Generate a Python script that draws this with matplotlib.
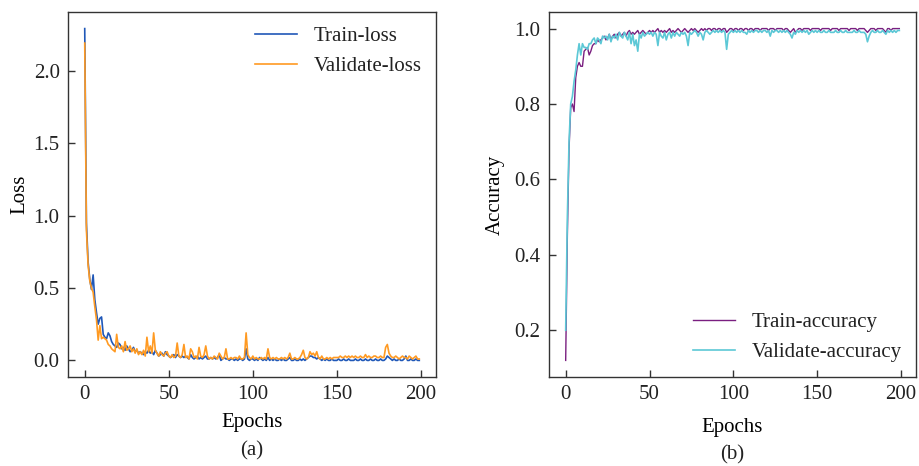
import matplotlib
matplotlib.use("Agg")
import matplotlib.pyplot as plt
import numpy as np

plt.rcParams['font.family'] = ['Liberation Serif', 'DejaVu Serif']
plt.rcParams['font.size'] = 15
plt.rcParams['text.color'] = '#222222'
plt.rcParams['axes.edgecolor'] = '#333333'
plt.rcParams['xtick.color'] = '#333333'
plt.rcParams['ytick.color'] = '#333333'
plt.rcParams['xtick.labelcolor'] = '#222222'
plt.rcParams['ytick.labelcolor'] = '#222222'

epochs = list(range(200))

train_loss = [
    2.29, 0.95, 0.68, 0.56, 0.49, 0.59, 0.42, 0.33, 0.25, 0.29,
    0.30, 0.18, 0.16, 0.15, 0.19, 0.17, 0.13, 0.11, 0.10, 0.09,
    0.12, 0.11, 0.08, 0.09, 0.07, 0.10, 0.08, 0.06, 0.07, 0.09,
    0.06, 0.07, 0.05, 0.06, 0.05, 0.04, 0.06, 0.05, 0.07, 0.05,
    0.06, 0.04, 0.07, 0.05, 0.03, 0.04, 0.05, 0.03, 0.06, 0.04,
    0.03, 0.02, 0.03, 0.04, 0.02, 0.04, 0.03, 0.02, 0.03, 0.02,
    0.03, 0.02, 0.01, 0.04, 0.02, 0.01, 0.02, 0.03, 0.01, 0.02,
    0.01, 0.02, 0.03, 0.01, 0.01, 0.02, 0.01, 0.02, 0.01, 0.02,
    0.04, 0.00, 0.01, 0.02, 0.01, 0.01, 0.00, 0.01, 0.01, 0.00,
    0.01, 0.00, 0.01, 0.01, 0.00, 0.01, 0.08, 0.01, 0.00, 0.01,
    0.01, 0.00, 0.01, 0.00, 0.02, 0.01, 0.00, 0.01, 0.00, 0.02,
    0.00, 0.01, 0.00, 0.01, 0.00, 0.00, 0.01, 0.00, 0.01, 0.00,
    0.00, 0.01, 0.02, 0.00, 0.00, 0.01, 0.00, 0.00, 0.01, 0.00,
    0.01, 0.00, 0.01, 0.02, 0.03, 0.03, 0.02, 0.02, 0.01, 0.02,
    0.01, 0.00, 0.01, 0.00, 0.01, 0.00, 0.00, 0.01, 0.00, 0.00,
    0.00, 0.01, 0.00, 0.00, 0.01, 0.00, 0.00, 0.01, 0.00, 0.00,
    0.00, 0.01, 0.00, 0.00, 0.01, 0.00, 0.00, 0.01, 0.00, 0.00,
    0.01, 0.00, 0.00, 0.01, 0.00, 0.00, 0.01, 0.00, 0.00, 0.01,
    0.03, 0.02, 0.01, 0.00, 0.01, 0.00, 0.00, 0.01, 0.00, 0.00,
    0.01, 0.03, 0.00, 0.00, 0.01, 0.00, 0.00, 0.01, 0.00, 0.00,
]

val_loss = [
    2.19, 0.90, 0.66, 0.55, 0.50, 0.47, 0.37, 0.28, 0.14, 0.24,
    0.15, 0.16, 0.15, 0.14, 0.11, 0.10, 0.08, 0.07, 0.06, 0.18,
    0.09, 0.08, 0.10, 0.06, 0.13, 0.07, 0.08, 0.10, 0.06, 0.08,
    0.05, 0.08, 0.04, 0.06, 0.04, 0.07, 0.03, 0.16, 0.06, 0.10,
    0.05, 0.19, 0.07, 0.05, 0.03, 0.06, 0.04, 0.03, 0.05, 0.06,
    0.03, 0.02, 0.04, 0.02, 0.03, 0.12, 0.03, 0.02, 0.04, 0.11,
    0.02, 0.03, 0.01, 0.08, 0.06, 0.02, 0.03, 0.01, 0.09, 0.03,
    0.02, 0.04, 0.10, 0.03, 0.01, 0.02, 0.01, 0.03, 0.02, 0.01,
    0.05, 0.03, 0.01, 0.02, 0.08, 0.01, 0.01, 0.02, 0.01, 0.02,
    0.02, 0.01, 0.03, 0.01, 0.01, 0.02, 0.19, 0.04, 0.02, 0.01,
    0.03, 0.01, 0.02, 0.01, 0.01, 0.02, 0.01, 0.02, 0.01, 0.08,
    0.02, 0.01, 0.02, 0.01, 0.02, 0.01, 0.01, 0.02, 0.01, 0.02,
    0.01, 0.02, 0.05, 0.01, 0.01, 0.02, 0.01, 0.01, 0.02, 0.04,
    0.07, 0.02, 0.01, 0.02, 0.06, 0.04, 0.05, 0.03, 0.06, 0.02,
    0.01, 0.03, 0.01, 0.01, 0.02, 0.01, 0.02, 0.01, 0.02, 0.02,
    0.02, 0.02, 0.03, 0.02, 0.02, 0.03, 0.02, 0.03, 0.02, 0.03,
    0.02, 0.03, 0.02, 0.02, 0.03, 0.02, 0.02, 0.04, 0.02, 0.03,
    0.02, 0.02, 0.03, 0.03, 0.02, 0.02, 0.03, 0.02, 0.02, 0.09,
    0.11, 0.05, 0.03, 0.02, 0.02, 0.03, 0.02, 0.01, 0.02, 0.03,
    0.02, 0.02, 0.01, 0.03, 0.02, 0.01, 0.02, 0.03, 0.01, 0.01,
]

train_acc = [
    0.12, 0.45, 0.68, 0.79, 0.80, 0.78, 0.87, 0.90, 0.91, 0.90,
    0.90, 0.94, 0.945, 0.95, 0.93, 0.94, 0.955, 0.96, 0.96, 0.97,
    0.965, 0.97, 0.975, 0.98, 0.97, 0.975, 0.985, 0.97, 0.98, 0.985,
    0.975, 0.985, 0.99, 0.98, 0.985, 0.99, 0.98, 0.99, 0.995, 0.985,
    0.99, 0.985, 0.99, 0.995, 0.985, 0.99, 0.995, 0.99, 0.985, 0.99,
    0.995, 0.99, 0.995, 0.99, 0.995, 1.0, 0.99, 0.995, 0.99, 0.995,
    0.99, 0.995, 1.0, 0.99, 0.995, 0.99, 0.995, 1.0, 0.995, 0.99,
    0.995, 1.0, 0.995, 0.99, 0.995, 1.0, 0.995, 1.0, 0.995, 0.99,
    0.995, 1.0, 0.995, 1.0, 0.995, 1.0, 1.0, 0.995, 1.0, 1.0,
    0.995, 1.0, 1.0, 0.995, 1.0, 1.0, 0.99, 0.995, 1.0, 1.0,
    0.995, 1.0, 1.0, 0.995, 1.0, 1.0, 0.995, 1.0, 1.0, 0.995,
    1.0, 1.0, 0.995, 1.0, 1.0, 1.0, 0.995, 1.0, 1.0, 1.0,
    1.0, 0.995, 1.0, 1.0, 1.0, 0.995, 1.0, 1.0, 1.0, 1.0,
    0.995, 1.0, 1.0, 0.995, 0.99, 0.995, 1.0, 0.99, 0.995, 1.0,
    1.0, 0.995, 1.0, 1.0, 1.0, 1.0, 0.995, 1.0, 1.0, 1.0,
    1.0, 1.0, 0.995, 1.0, 1.0, 1.0, 1.0, 1.0, 0.995, 1.0,
    1.0, 1.0, 1.0, 0.995, 1.0, 1.0, 1.0, 1.0, 1.0, 0.995,
    1.0, 1.0, 1.0, 1.0, 0.995, 1.0, 1.0, 1.0, 1.0, 0.995,
    0.99, 0.995, 1.0, 1.0, 1.0, 0.995, 1.0, 1.0, 1.0, 1.0,
    0.995, 0.99, 1.0, 1.0, 0.995, 1.0, 1.0, 1.0, 1.0, 1.0,
]

val_acc = [
    0.20, 0.50, 0.70, 0.80, 0.82, 0.86, 0.89, 0.93, 0.96, 0.93,
    0.96, 0.95, 0.95, 0.945, 0.96, 0.96, 0.97, 0.975, 0.96, 0.975,
    0.97, 0.96, 0.98, 0.975, 0.98, 0.97, 0.985, 0.965, 0.98, 0.975,
    0.985, 0.97, 0.99, 0.98, 0.975, 0.99, 0.98, 0.97, 0.99, 0.96,
    0.985, 0.955, 0.97, 0.94, 0.985, 0.975, 0.99, 0.98, 0.985, 0.99,
    0.985, 0.99, 0.98, 0.99, 0.985, 0.955, 0.99, 0.98, 0.975, 0.99,
    0.97, 0.985, 0.99, 0.975, 0.99, 0.98, 0.99, 0.985, 0.98, 0.99,
    0.985, 0.99, 0.98, 0.955, 0.99, 0.985, 0.99, 0.995, 0.99, 0.98,
    0.99, 0.985, 0.97, 0.99, 0.995, 0.99, 0.985, 0.99, 0.995, 0.99,
    0.995, 0.99, 0.995, 0.99, 0.995, 0.99, 0.945, 0.985, 0.99, 0.995,
    0.99, 0.995, 0.99, 0.995, 0.99, 0.995, 0.99, 0.99, 0.985, 0.995,
    0.99, 0.995, 0.99, 0.995, 0.995, 0.99, 0.995, 0.99, 0.995, 0.995,
    0.99, 0.995, 0.98, 0.995, 0.99, 0.995, 0.995, 0.99, 0.995, 0.99,
    0.995, 0.99, 0.995, 0.99, 0.985, 0.975, 0.99, 0.985, 0.995, 0.99,
    0.995, 0.99, 0.995, 0.99, 0.995, 0.985, 0.99, 0.995, 0.99, 0.995,
    0.99, 0.995, 0.99, 0.99, 0.995, 0.99, 0.99, 0.995, 0.99, 0.99,
    0.99, 0.995, 0.99, 0.99, 0.995, 0.99, 0.99, 0.995, 0.99, 0.99,
    0.99, 0.99, 0.995, 0.99, 0.99, 0.995, 0.99, 0.99, 0.99, 0.985,
    0.965, 0.98, 0.99, 0.995, 0.99, 0.99, 0.995, 0.99, 0.99, 0.995,
    0.99, 0.985, 0.995, 0.99, 0.995, 0.99, 0.995, 0.99, 0.995, 0.995,
]

fig = plt.figure(figsize=(9.19, 4.66), dpi=100)
W, H = 919, 466
ax1 = fig.add_axes([68 / W, (H - 377) / H, 368 / W, 365 / H])
ax2 = fig.add_axes([549 / W, (H - 377) / H, 367 / W, 365 / H])

ax1.plot(epochs, train_loss, color='#2058b8', lw=1.2, label='Train-loss')
ax1.plot(epochs, val_loss, color='#ff9a22', lw=1.2, label='Validate-loss')
ax1.set_yticks([0.0, 0.5, 1.0, 1.5, 2.0])
ax1.set_xticks([0, 50, 100, 150, 200])
ax1.set_xlabel('Epochs', labelpad=6)
ax1.set_ylabel('Loss', labelpad=3)
ax1.legend(loc='upper right', frameon=False, handlelength=2.0, borderaxespad=0.3)

ax2.plot(epochs, train_acc, color='#7a1f80', lw=1.0, label='Train-accuracy')
ax2.plot(epochs, val_acc, color='#5cc8d6', lw=1.2, label='Validate-accuracy')
ax2.set_yticks([0.2, 0.4, 0.6, 0.8, 1.0])
ax2.set_xticks([0, 50, 100, 150, 200])
ax2.set_xlabel('Epochs', labelpad=10)
ax2.set_ylabel('Accuracy', labelpad=7)
ax2.legend(loc='lower right', frameon=False, handlelength=2.0, borderaxespad=0.3)

for ax in (ax1, ax2):
    ax.tick_params(direction='in', length=5, width=1, labelsize=15, pad=6)
    for s in ax.spines.values():
        s.set_linewidth(1.0)

fig.text((68 + 436) / 2 / W, 1 - 451 / H, '(a)', ha='center', va='center', fontsize=15)
fig.text((549 + 916) / 2 / W, 1 - 455 / H, '(b)', ha='center', va='center', fontsize=15)

fig.savefig('out.png', dpi=100)
